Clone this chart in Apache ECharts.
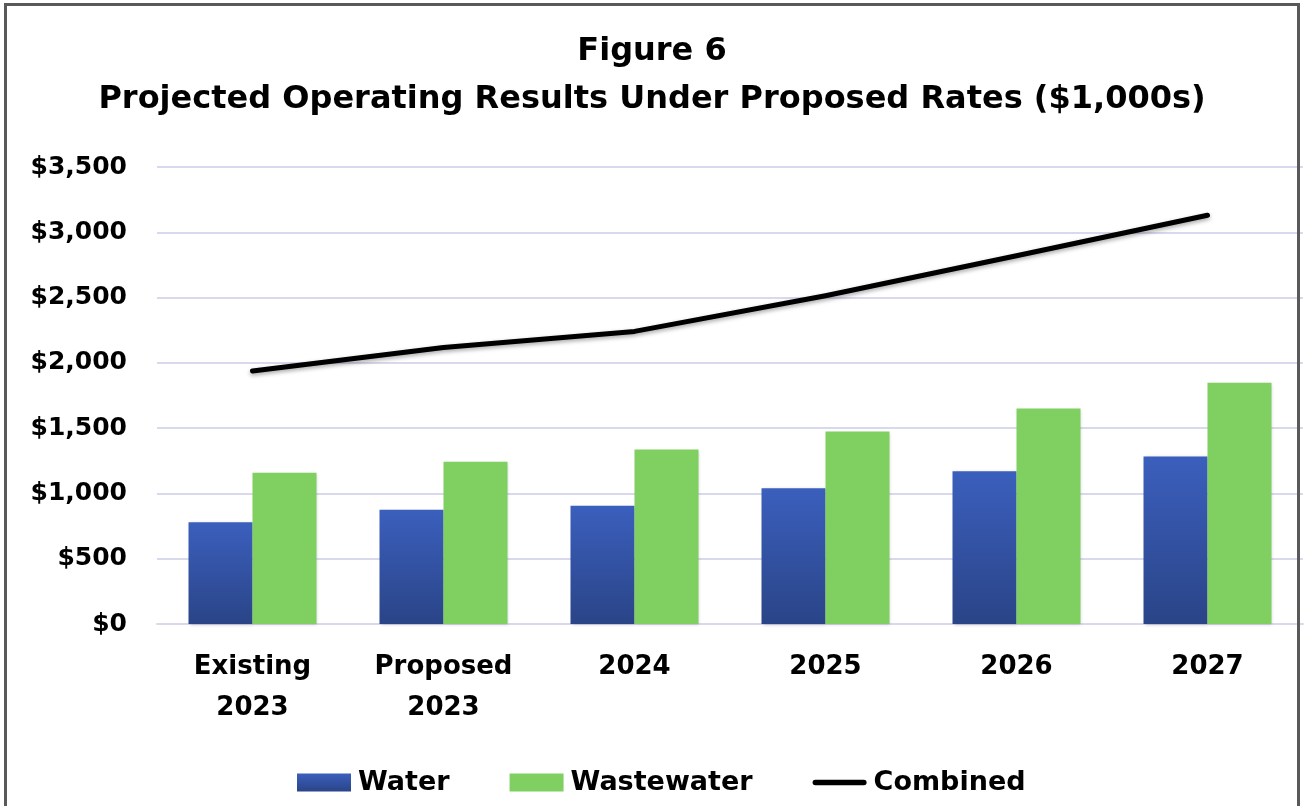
<!DOCTYPE html>
<html>
<head>
<meta charset="utf-8">
<script src="https://cdn.jsdelivr.net/npm/echarts@6/dist/echarts.min.js"></script>
<style>
  html, body { margin: 0; padding: 0; background: #fff; }
  #chart { width: 1304px; height: 806px; }
</style>
</head>
<body>
<div id="chart"></div>
<script>
// Operating results by period, in $1,000s
const categories = ['Existing\n2023', 'Proposed\n2023', '2024', '2025', '2026', '2027'];
const waterValues = [780, 875, 905, 1040, 1170, 1283];
const wastewaterValues = [1158, 1243, 1336, 1474, 1650, 1847];
const combinedValues = [1938, 2118, 2241, 2514, 2820, 3130];
const yTicks = { min: 0, max: 3500, step: 500 };

const FONT = 'DejaVu Sans';
const chart = echarts.init(document.getElementById('chart'), null, { renderer: 'canvas' });

chart.setOption({
  backgroundColor: '#ffffff',
  animation: false,
  textStyle: { fontFamily: FONT, color: '#000' },
  graphic: [{
    type: 'rect',
    silent: true,
    shape: { x: 5.5, y: 4.5, width: 1293, height: 820 },
    style: { fill: 'none', stroke: '#595959', lineWidth: 3 },
    z: 100
  }],
  title: {
    text: 'Figure 6\nProjected Operating Results Under Proposed Rates ($1,000s)',
    left: 'center',
    top: 23,
    textStyle: { fontFamily: FONT, fontSize: 32, fontWeight: 'bold', lineHeight: 48, color: '#000' }
  },
  legend: {
    left: 292,
    top: 764,
    itemWidth: 54,
    itemHeight: 18,
    itemGap: 60,
    textStyle: { fontFamily: FONT, fontSize: 27, fontWeight: 'bold', color: '#000', padding: [0, 0, 0, 2] },
    data: [
      { name: 'Water', icon: 'rect' },
      { name: 'Wastewater', icon: 'rect' },
      { name: 'Combined', icon: 'path://M3,0 L57,0 A3,3 0 0 1 57,6 L3,6 A3,3 0 0 1 3,0 Z' }
    ]
  },
  grid: { left: 157, right: 1, top: 167, bottom: 182 },
  xAxis: {
    type: 'category',
    data: categories,
    axisLine: { show: true, lineStyle: { color: '#d9d9ee', width: 2 } },
    axisTick: { show: false },
    axisLabel: { fontFamily: FONT, fontSize: 26, fontWeight: 'bold', color: '#000', lineHeight: 41, margin: 23, interval: 0 }
  },
  yAxis: {
    type: 'value',
    min: yTicks.min,
    max: yTicks.max,
    interval: yTicks.step,
    axisLine: { show: false },
    axisTick: { show: false },
    splitLine: { lineStyle: { color: '#d9d9ee', width: 2 } },
    axisLabel: {
      fontFamily: FONT, fontSize: 25, fontWeight: 'bold', color: '#000', margin: 30,
      formatter: v => '$' + v.toLocaleString('en-US')
    }
  },
  series: [
    {
      name: 'Water',
      type: 'bar',
      data: waterValues,
      barGap: '0%',
      barCategoryGap: '33%',
      itemStyle: {
        color: new echarts.graphic.LinearGradient(0, 0, 0, 1, [
          { offset: 0, color: '#3b5fbd' },
          { offset: 1, color: '#2a4487' }
        ]),
        shadowColor: 'rgba(0,0,0,0.2)', shadowBlur: 3, shadowOffsetX: 1, shadowOffsetY: 1
      }
    },
    {
      name: 'Wastewater',
      type: 'bar',
      data: wastewaterValues,
      itemStyle: {
        color: '#80cf61',
        shadowColor: 'rgba(0,0,0,0.2)', shadowBlur: 3, shadowOffsetX: 1, shadowOffsetY: 1
      }
    },
    {
      name: 'Combined',
      type: 'line',
      data: combinedValues,
      symbol: 'none',
      lineStyle: {
        color: '#000', width: 5, cap: 'round', join: 'round',
        shadowColor: 'rgba(0,0,0,0.35)', shadowBlur: 4, shadowOffsetY: 2
      },
      itemStyle: { color: '#000' },
      z: 5
    }
  ]
});
</script>
</body>
</html>
